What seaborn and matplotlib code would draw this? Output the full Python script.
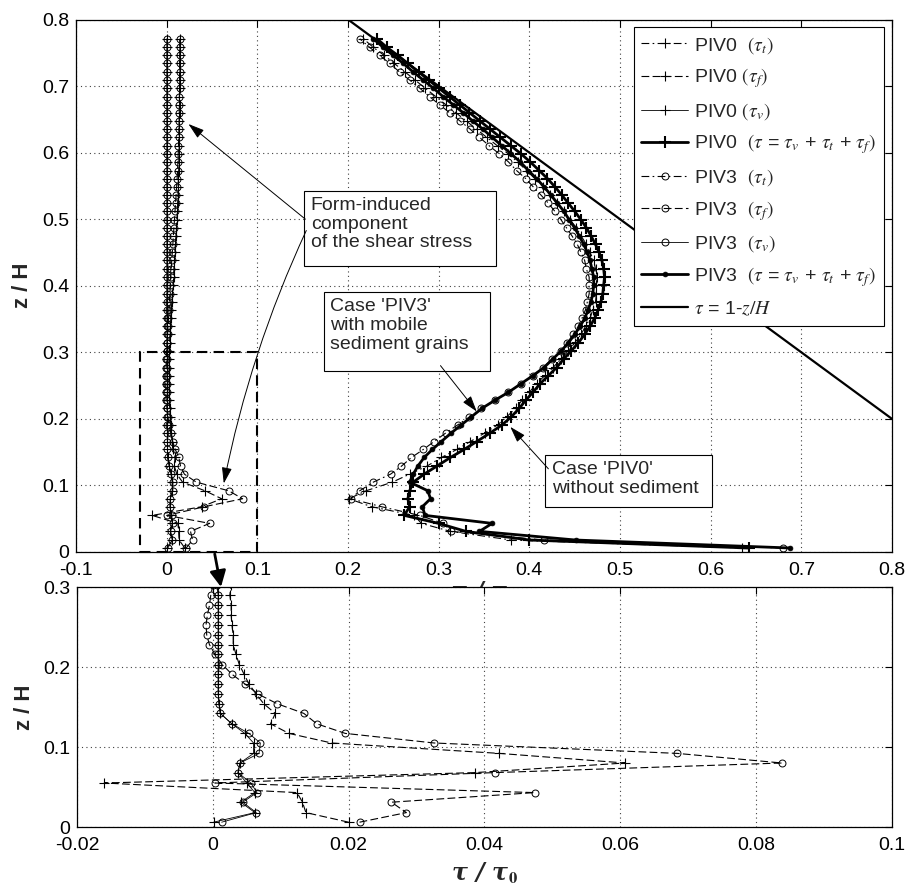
import matplotlib
matplotlib.use("Agg")
import matplotlib.pyplot as plt
import seaborn as sns
from matplotlib.patches import Rectangle, ConnectionPatch

# ---------------- data ----------------
z_levels = [
    0.006, 0.018, 0.031, 0.043, 0.055, 0.068, 0.080, 0.092, 0.105, 0.117,
    0.129, 0.142, 0.154, 0.166, 0.179, 0.191, 0.203, 0.216, 0.228, 0.240,
    0.253, 0.265, 0.277, 0.290, 0.302, 0.314, 0.327, 0.339, 0.351, 0.364,
    0.376, 0.388, 0.401, 0.413, 0.425, 0.438, 0.450, 0.462, 0.475, 0.487,
    0.499, 0.512, 0.524, 0.536, 0.549, 0.561, 0.573, 0.586, 0.598, 0.610,
    0.623, 0.635, 0.647, 0.660, 0.672, 0.684, 0.697, 0.709, 0.721, 0.734,
    0.746, 0.758, 0.771]

piv0_tau_t = [
    0.635, 0.380, 0.313, 0.281, 0.273, 0.226, 0.201, 0.220, 0.249, 0.268,
    0.287, 0.303, 0.320, 0.335, 0.351, 0.365, 0.375, 0.385, 0.392, 0.400,
    0.408, 0.417, 0.426, 0.435, 0.443, 0.450, 0.457, 0.462, 0.467, 0.470,
    0.473, 0.474, 0.474, 0.475, 0.473, 0.471, 0.467, 0.463, 0.457, 0.452,
    0.445, 0.438, 0.430, 0.423, 0.415, 0.406, 0.397, 0.387, 0.377, 0.365,
    0.353, 0.342, 0.331, 0.319, 0.308, 0.297, 0.285, 0.274, 0.263, 0.251,
    0.240, 0.228, 0.217]

piv0_tau_f = [
    0.0200, 0.0137, 0.0132, 0.0124, -0.0160, 0.0386, 0.0607, 0.0422, 0.0175, 0.0112,
    0.0085, 0.0092, 0.0075, 0.0064, 0.0053, 0.0046, 0.0039, 0.0034, 0.0030, 0.0030,
    0.0028, 0.0027, 0.0027, 0.0025, 0.0027, 0.0032, 0.0037, 0.0042, 0.0048, 0.0051,
    0.0058, 0.0064, 0.0070, 0.0078, 0.0080, 0.0086, 0.0092, 0.0095, 0.0103, 0.0108,
    0.0112, 0.0119, 0.0121, 0.0125, 0.0128, 0.0129, 0.0133, 0.0135, 0.0137, 0.0138,
    0.0141, 0.0140, 0.0141, 0.0142, 0.0143, 0.0141, 0.0144, 0.0144, 0.0147, 0.0145,
    0.0146, 0.0146, 0.0147]

piv0_tau_v = [
    0.0001, 0.0062, 0.0041, 0.0062, 0.0050, 0.0037, 0.0040, 0.0060, 0.0060, 0.0047,
    0.0028, 0.0011, 0.0009, 0.0008, 0.0008, 0.0008, 0.0008, 0.0008, 0.0008, 0.0008,
    0.0008, 0.0008, 0.0008, 0.0008, 0.0007, 0.0007, 0.0006, 0.0006, 0.0006, 0.0006,
    0.0006, 0.0005, 0.0005, 0.0005, 0.0005, 0.0005, 0.0005, 0.0005, 0.0005, 0.0005,
    0.0005, 0.0005, 0.0004, 0.0004, 0.0004, 0.0004, 0.0004, 0.0004, 0.0004, 0.0004,
    0.0004, 0.0004, 0.0004, 0.0004, 0.0004, 0.0004, 0.0004, 0.0004, 0.0004, 0.0004,
    0.0004, 0.0004, 0.0004]

piv0_tau_total = [
    0.642, 0.400, 0.330, 0.300, 0.262, 0.268, 0.266, 0.268, 0.272, 0.284,
    0.298, 0.313, 0.328, 0.342, 0.357, 0.370, 0.380, 0.389, 0.396, 0.404,
    0.412, 0.421, 0.430, 0.438, 0.446, 0.454, 0.461, 0.467, 0.472, 0.476,
    0.479, 0.481, 0.482, 0.483, 0.482, 0.480, 0.477, 0.473, 0.468, 0.463,
    0.457, 0.450, 0.443, 0.436, 0.428, 0.420, 0.411, 0.401, 0.391, 0.380,
    0.368, 0.357, 0.346, 0.334, 0.323, 0.312, 0.300, 0.289, 0.278, 0.266,
    0.255, 0.243, 0.232]

piv3_tau_t = [
    0.680, 0.416, 0.314, 0.305, 0.279, 0.237, 0.203, 0.213, 0.228, 0.247,
    0.259, 0.270, 0.283, 0.295, 0.308, 0.321, 0.334, 0.347, 0.362, 0.377,
    0.391, 0.404, 0.415, 0.425, 0.435, 0.442, 0.448, 0.454, 0.458, 0.462,
    0.464, 0.466, 0.466, 0.466, 0.463, 0.461, 0.457, 0.453, 0.447, 0.441,
    0.435, 0.428, 0.421, 0.413, 0.404, 0.396, 0.386, 0.377, 0.367, 0.356,
    0.345, 0.335, 0.324, 0.312, 0.301, 0.290, 0.279, 0.268, 0.257, 0.246,
    0.235, 0.224, 0.213]

piv3_tau_f = [
    0.0216, 0.0285, 0.0263, 0.0474, 0.0003, 0.0415, 0.0838, 0.0684, 0.0326, 0.0195,
    0.0153, 0.0134, 0.0095, 0.0067, 0.0047, 0.0028, 0.0014, 0.0003, -0.0005, -0.0009,
    -0.0010, -0.0008, -0.0005, -0.0003, 0.0000, 0.0005, 0.0010, 0.0015, 0.0020, 0.0025,
    0.0030, 0.0035, 0.0040, 0.0045, 0.0050, 0.0056, 0.0062, 0.0068, 0.0074, 0.0080,
    0.0086, 0.0092, 0.0098, 0.0104, 0.0110, 0.0115, 0.0120, 0.0124, 0.0127, 0.0130,
    0.0133, 0.0135, 0.0137, 0.0139, 0.0140, 0.0141, 0.0142, 0.0142, 0.0143, 0.0143,
    0.0144, 0.0144, 0.0145]

piv3_tau_v = [
    0.0013, 0.0064, 0.0044, 0.0065, 0.0056, 0.0037, 0.0040, 0.0068, 0.0070, 0.0053,
    0.0028, 0.0011, 0.0009, 0.0008, 0.0008, 0.0008, 0.0008, 0.0008, 0.0008, 0.0008,
    0.0008, 0.0008, 0.0008, 0.0008, 0.0006, 0.0006, 0.0005, 0.0005, 0.0005, 0.0005,
    0.0005, 0.0004, 0.0004, 0.0004, 0.0004, 0.0004, 0.0004, 0.0004, 0.0004, 0.0004,
    0.0004, 0.0004, 0.0004, 0.0004, 0.0004, 0.0004, 0.0004, 0.0004, 0.0004, 0.0004,
    0.0004, 0.0004, 0.0004, 0.0004, 0.0004, 0.0004, 0.0004, 0.0004, 0.0004, 0.0004,
    0.0004, 0.0004, 0.0004]

piv3_tau_total = [
    0.688, 0.451, 0.345, 0.359, 0.285, 0.282, 0.291, 0.288, 0.268, 0.272,
    0.277, 0.284, 0.293, 0.303, 0.314, 0.325, 0.336, 0.348, 0.362, 0.377,
    0.391, 0.404, 0.416, 0.426, 0.435, 0.443, 0.450, 0.456, 0.461, 0.465,
    0.468, 0.470, 0.471, 0.471, 0.469, 0.467, 0.464, 0.460, 0.455, 0.450,
    0.444, 0.438, 0.431, 0.424, 0.416, 0.408, 0.399, 0.390, 0.380, 0.370,
    0.359, 0.349, 0.338, 0.327, 0.316, 0.305, 0.294, 0.283, 0.272, 0.261,
    0.250, 0.239, 0.228]

theory_z = [0.0, 0.8]
theory_tau = [1.0, 0.2]

series_labels = [
    r'PIV0  $(\tau_t)$',
    r'PIV0 $(\tau_f)$',
    r'PIV0 $(\tau_v)$',
    r'PIV0  $(\tau$ = $\tau_v$ + $\tau_t$ + $\tau_f)$',
    r'PIV3  $(\tau_t)$',
    r'PIV3  $(\tau_f)$',
    r'PIV3  $(\tau_v)$',
    r'PIV3  $(\tau$ = $\tau_v$ + $\tau_t$ + $\tau_f)$',
    r'$\tau$ = 1-$z/H$',
]

top_xticks = [-0.1, 0.0, 0.1, 0.2, 0.3, 0.4, 0.5, 0.6, 0.7, 0.8]
top_xticklabels = ['-0.1', '0', '0.1', '0.2', '0.3', '0.4', '0.5', '0.6', '0.7', '0.8']
top_yticks = [0.0, 0.1, 0.2, 0.3, 0.4, 0.5, 0.6, 0.7, 0.8]
top_yticklabels = ['0', '0.1', '0.2', '0.3', '0.4', '0.5', '0.6', '0.7', '0.8']
bot_xticks = [-0.02, 0.0, 0.02, 0.04, 0.06, 0.08, 0.1]
bot_xticklabels = ['-0.02', '0', '0.02', '0.04', '0.06', '0.08', '0.1']
bot_yticks = [0.0, 0.1, 0.2, 0.3]
bot_yticklabels = ['0', '0.1', '0.2', '0.3']

# ---------------- styles ----------------
sns.set_style("white")
plt.rcParams['font.family'] = ['Liberation Sans', 'DejaVu Sans']
plt.rcParams['mathtext.fontset'] = 'stix'

DASH = (0, (7, 3))
DASHDOT = (0, (7, 3, 1.5, 3))
plus_thin = dict(marker='+', markersize=7, markeredgewidth=0.8,
                 markeredgecolor='k', markerfacecolor='k')
plus_thick = dict(marker='+', markersize=8, markeredgewidth=1.5,
                  markeredgecolor='k', markerfacecolor='k')
circ = dict(marker='o', markersize=5, markeredgewidth=0.7,
            markeredgecolor='k', markerfacecolor='none')
dot = dict(marker='o', markersize=3.5, markeredgewidth=0.5,
           markeredgecolor='k', markerfacecolor='k')

series = [
    (piv0_tau_t, dict(linestyle=DASHDOT, linewidth=0.8, **plus_thin), 3),
    (piv0_tau_f, dict(linestyle=DASH, linewidth=0.8, **plus_thin), 3),
    (piv0_tau_v, dict(linestyle='-', linewidth=0.6, **plus_thin), 3),
    (piv0_tau_total, dict(linestyle='-', linewidth=2.0, **plus_thick), 4),
    (piv3_tau_t, dict(linestyle=DASHDOT, linewidth=0.8, **circ), 3),
    (piv3_tau_f, dict(linestyle=DASH, linewidth=0.8, **circ), 3),
    (piv3_tau_v, dict(linestyle='-', linewidth=0.6, **circ), 3),
    (piv3_tau_total, dict(linestyle='-', linewidth=2.0, **dot), 4),
]

fig = plt.figure(figsize=(9.06, 8.86), dpi=100)
ax1 = fig.add_axes([76 / 906, 1 - 552 / 886, 816 / 906, 532.5 / 886])
ax2 = fig.add_axes([77 / 906, 1 - 827 / 886, 815 / 906, 240 / 886])

for ax in (ax1, ax2):
    for (vals, st, zo), lab in zip(series, series_labels[:8]):
        sns.lineplot(x=vals, y=z_levels, ax=ax, sort=False, estimator=None,
                     errorbar=None, color='k', label=lab, legend=False,
                     zorder=zo, **st)
    sns.lineplot(x=theory_tau, y=theory_z, ax=ax, sort=False, estimator=None,
                 errorbar=None, color='k', linewidth=1.6, label=series_labels[8],
                 legend=False, zorder=3)

label_font = dict(fontsize=16, fontweight='bold')
xlab_font = dict(fontsize=17, fontweight='bold', fontstyle='italic',
                 family=['DejaVu Serif', 'DejaVu Sans'])
xlabel_text = r'τ / τ$_{\mathbf{0}}$'

ax1.set_xlim(-0.1, 0.8)
ax1.set_ylim(0, 0.8)
ax1.set_xticks(top_xticks)
ax1.set_xticklabels(top_xticklabels)
ax1.set_yticks(top_yticks)
ax1.set_yticklabels(top_yticklabels)
ax1.set_ylabel('z / H', labelpad=6, **label_font)
ax1.set_xlabel(xlabel_text, **xlab_font)
ax1.xaxis.set_label_coords(0.5, -0.052)

ax2.set_xlim(-0.02, 0.1)
ax2.set_ylim(0, 0.3)
ax2.set_xticks(bot_xticks)
ax2.set_xticklabels(bot_xticklabels)
ax2.set_yticks(bot_yticks)
ax2.set_yticklabels(bot_yticklabels)
ax2.set_ylabel('z / H', labelpad=6, **label_font)
ax2.set_xlabel(xlabel_text, labelpad=5, **xlab_font)

for ax in (ax1, ax2):
    ax.grid(True, linestyle=(0, (1, 3)), linewidth=0.8, color='0.25')
    ax.tick_params(direction='in', length=5, width=0.8, top=True, right=True,
                   labelsize=14, colors='k')
    ax.tick_params(axis='x', pad=7)
    ax.tick_params(axis='y', pad=5)
    for sp in ax.spines.values():
        sp.set_color('k')
        sp.set_linewidth(0.9)
    ax.set_axisbelow(True)

# legend
handles, labels = ax1.get_legend_handles_labels()
leg = ax1.legend(handles, labels, loc='upper right', bbox_to_anchor=(0.990, 0.986),
                 borderaxespad=0, fontsize=14, frameon=True, fancybox=False,
                 edgecolor='k', framealpha=1, handlelength=2.4, labelspacing=0.55,
                 borderpad=0.4, handletextpad=0.3, numpoints=1)
leg.get_frame().set_linewidth(0.8)
leg.set_zorder(10)

# annotation boxes (text + frame) in data coordinates of the upper panel
boxes = [
    ((0.1516, 0.429), 0.2121, 0.113, (0.159, 0.534), 'Form-induced\ncomponent\nof the shear stress'),
    ((0.173, 0.272), 0.184, 0.118, (0.180, 0.381), "Case 'PIV3'\nwith mobile\nsediment grains"),
    ((0.4177, 0.0675), 0.1843, 0.0775, (0.425, 0.137), "Case 'PIV0'\nwithout sediment"),
]
for (x0, y0), w, h, (tx, ty), txt in boxes:
    ax1.add_patch(Rectangle((x0, y0), w, h, facecolor='white', edgecolor='k',
                            linewidth=0.8, zorder=6))
    ax1.text(tx, ty, txt, ha='left', va='top', fontsize=14, linespacing=1.15,
             zorder=7)

arrows = [
    ((0.153, 0.500), (0.024, 0.643), 'arc3,rad=0'),
    ((0.154, 0.483), (0.063, 0.103), 'arc3,rad=0.06'),
    ((0.302, 0.280), (0.342, 0.211), 'arc3,rad=0'),
    ((0.421, 0.125), (0.379, 0.188), 'arc3,rad=0'),
]
for start, tip, cs in arrows:
    ax1.annotate('', xy=tip, xytext=start, zorder=8,
                 arrowprops=dict(arrowstyle='-|>,head_length=0.7,head_width=0.22',
                                 color='k', lw=0.7, mutation_scale=14,
                                 connectionstyle=cs, shrinkA=0, shrinkB=0))

# dashed zoom box in the upper panel
ax1.add_patch(Rectangle((-0.0295, 0.0), 0.129, 0.300, fill=False, edgecolor='k',
                        linewidth=1.5, linestyle=(0, (5, 3)), zorder=5, clip_on=False))

# thick arrow from the zoom box to the lower panel
con = ConnectionPatch(xyA=(0.053, -0.003), coordsA=ax1.transData,
                      xyB=(0.0012, 0.3), coordsB=ax2.transData,
                      arrowstyle='-|>,head_length=0.6,head_width=0.3',
                      mutation_scale=16, color='k', linewidth=2.0,
                      shrinkA=0, shrinkB=0)
fig.add_artist(con)

fig.savefig('out.png', dpi=100)
